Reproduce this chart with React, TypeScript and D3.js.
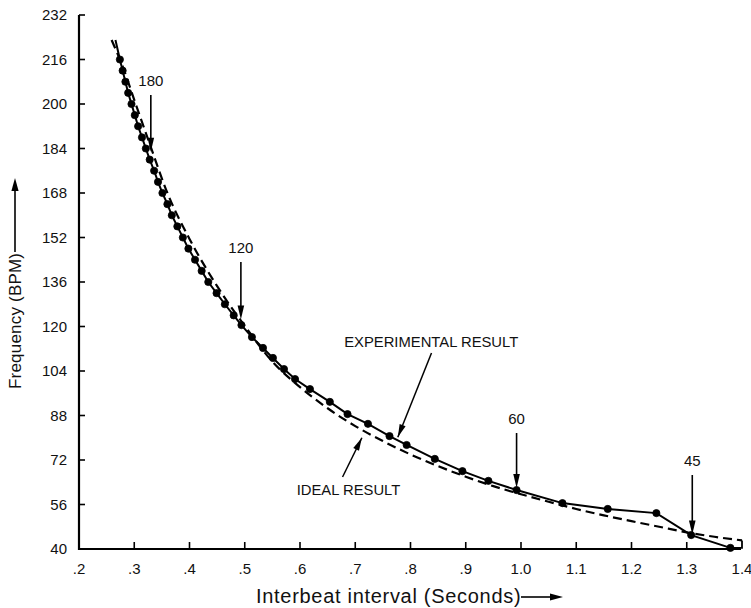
import React from 'react';
import * as d3 from 'd3';

// interbeat interval (s) and measured frequency (BPM)
const expInterval = [0.266, 0.274, 0.279, 0.284, 0.289, 0.295, 0.301, 0.307, 0.314, 0.321, 0.328, 0.336, 0.343, 0.351, 0.36, 0.368, 0.378, 0.388, 0.398, 0.41, 0.422, 0.434, 0.449, 0.464, 0.48, 0.494, 0.513, 0.533, 0.551, 0.571, 0.591, 0.618, 0.654, 0.686, 0.723, 0.762, 0.793, 0.844, 0.894, 0.941, 0.992, 1.075, 1.157, 1.245, 1.308, 1.379];
const expBpm = [223, 216, 212, 208, 204, 200, 196, 192, 188, 184, 180, 176, 172, 168, 164, 160, 156, 152, 148, 144, 140, 136, 132, 128, 124, 120.5, 116.2, 112.3, 108.7, 104.7, 101.1, 97.5, 92.9, 88.5, 85, 80.6, 77.4, 72.4, 68, 64.5, 61.2, 56.5, 54.4, 52.9, 45, 40.4];
// first point is the line start (no dot)
const expNoDot = [0];

const idealInterval = [0.259, 0.28, 0.3, 0.33, 0.36, 0.4, 0.45, 0.5, 0.55, 0.6, 0.65, 0.7, 0.75, 0.8, 0.85, 0.9, 0.95, 1.0, 1.05, 1.1, 1.15, 1.2, 1.25, 1.3, 1.35, 1.4];
const idealBpm = [223, 213, 201.5, 184.5, 168, 151.5, 134.5, 120.2, 107.4, 98.2, 90.6, 84.2, 78.8, 74, 69.8, 66, 62.6, 59.7, 57, 54.4, 52.1, 50, 48, 46, 44.4, 43.1];

// little closing stroke at the right end of the curves
const endInterval = [1.379, 1.4, 1.4];
const endBpm = [40.4, 40.4, 43.1];

const xTicks = [0.2, 0.3, 0.4, 0.5, 0.6, 0.7, 0.8, 0.9, 1.0, 1.1, 1.2, 1.3, 1.4];
const xTickLabels = ['.2', '.3', '.4', '.5', '.6', '.7', '.8', '.9', '1.0', '1.1', '1.2', '1.3', '1.4'];
const yTicks = [40, 56, 72, 88, 104, 120, 136, 152, 168, 184, 200, 216, 232];

// rate markers: label, interval, arrow top bpm, arrow tip bpm
const markLabels = ['180', '120', '60', '45'];
const markInterval = [0.33, 0.493, 0.992, 1.31];
const markTop = [203.2, 143.2, 81.7, 66.6];
const markTip = [182.8, 122.5, 61.9, 45.2];

// text callouts: label, text x/bpm, arrow tail, arrow tip
const calloutLabels = ['EXPERIMENTAL RESULT', 'IDEAL RESULT'];
const calloutTextX = [0.68, 0.594];
const calloutTextY = [112.5, 59.5];
const calloutTail = [[0.838, 110.5], [0.677, 65.9]];
const calloutTip = [[0.777, 80.2], [0.712, 80]];

const W = 751;
const H = 608;
const left = 79;
const right = 742;
const top = 15;
const bottom = 549;

const font = '"Liberation Sans", Arial, Helvetica, sans-serif';

function arrowHead(x1: number, y1: number, x2: number, y2: number, len = 13, half = 3.2) {
  const a = Math.atan2(y2 - y1, x2 - x1);
  const bx = x2 - len * Math.cos(a);
  const by = y2 - len * Math.sin(a);
  const px = -Math.sin(a) * half;
  const py = Math.cos(a) * half;
  return `M${x2},${y2}L${bx + px},${by + py}L${bx - px},${by - py}Z`;
}

export default function App() {
  const x = d3.scaleLinear().domain([0.2, 1.4]).range([left, right]);
  const y = d3.scaleLinear().domain([40, 232]).range([bottom, top]);

  const expPts: [number, number][] = expInterval.map((t, i) => [t, expBpm[i]]);
  const idealPts: [number, number][] = idealInterval.map((t, i) => [t, idealBpm[i]]);
  const endPts: [number, number][] = endInterval.map((t, i) => [t, endBpm[i]]);

  const expLine = d3.line<[number, number]>().x(d => x(d[0])).y(d => y(d[1]));
  const idealLine = d3.line<[number, number]>().x(d => x(d[0])).y(d => y(d[1])).curve(d3.curveMonotoneX);

  return (
    <svg width={W} height={H} style={{ position: 'absolute', left: 0, top: 0, background: '#fff' }} fontFamily={font}>
      {/* axes */}
      <line x1={left} x2={left} y1={top} y2={bottom + 1} stroke="#000" strokeWidth={2.2} />
      <line x1={left - 1} x2={right - 1} y1={bottom} y2={bottom} stroke="#000" strokeWidth={2.2} />
      {yTicks.map(v => (
        <g key={'y' + v}>
          <line x1={left} x2={left + 6} y1={y(v)} y2={y(v)} stroke="#000" strokeWidth={1.6} />
          <text x={67} y={y(v) + 5} textAnchor="end" fontSize={15} fill="#111">{v}</text>
        </g>
      ))}
      {xTicks.map((v, i) => (
        <g key={'x' + v}>
          {i > 0 && i < xTicks.length - 1 && (
            <line x1={x(v)} x2={x(v)} y1={bottom} y2={bottom - 7} stroke="#000" strokeWidth={1.6} />
          )}
          <text x={x(v)} y={574} textAnchor="middle" fontSize={15} fill="#111">{xTickLabels[i]}</text>
        </g>
      ))}

      {/* axis titles */}
      <text x={256} y={603} fontSize={20} letterSpacing={0.7} fill="#111">Interbeat interval (Seconds)</text>
      <line x1={521} x2={552} y1={597} y2={597} stroke="#000" strokeWidth={1.6} />
      <path d={arrowHead(521, 597, 563, 597, 13, 3.6)} fill="#000" />
      <text transform={`translate(21,389) rotate(-90)`} fontSize={17} letterSpacing={0.2} fill="#111">Frequency (BPM)</text>
      <line x1={15} x2={15} y1={252} y2={190} stroke="#000" strokeWidth={1.6} />
      <path d={arrowHead(15, 252, 15, 178, 13, 3.6)} fill="#000" />

      {/* ideal curve */}
      <path d={idealLine(idealPts) || ''} fill="none" stroke="#000" strokeWidth={2.2} strokeDasharray="9,5" />
      {/* experimental curve */}
      <path d={expLine(expPts) || ''} fill="none" stroke="#000" strokeWidth={2} />
      <path d={expLine(endPts) || ''} fill="none" stroke="#000" strokeWidth={1.8} />
      {expPts.map((d, i) => expNoDot.includes(i) ? null : (
        <circle key={'p' + i} cx={x(d[0])} cy={y(d[1])} r={3.6} fill="#000" stroke="#000" strokeWidth={0.8} />
      ))}

      {/* rate markers */}
      {markLabels.map((lab, i) => {
        const mx = x(markInterval[i]);
        const y1 = y(markTop[i]);
        const y2 = y(markTip[i]);
        return (
          <g key={'m' + lab}>
            <text x={mx} y={y1 - 9} textAnchor="middle" fontSize={15} fill="#111">{lab}</text>
            <line x1={mx} x2={mx} y1={y1} y2={y2 - 8} stroke="#000" strokeWidth={1.6} />
            <path d={arrowHead(mx, y1, mx, y2, 14, 3.3)} fill="#000" />
          </g>
        );
      })}

      {/* callouts */}
      {calloutLabels.map((lab, i) => {
        const x1 = x(calloutTail[i][0]);
        const y1 = y(calloutTail[i][1]);
        const x2 = x(calloutTip[i][0]);
        const y2 = y(calloutTip[i][1]);
        return (
          <g key={'c' + i}>
            <text x={x(calloutTextX[i])} y={y(calloutTextY[i])} fontSize={14.8} fill="#111">{lab}</text>
            <line x1={x1} y1={y1} x2={x2} y2={y2} stroke="#000" strokeWidth={1.5} />
            <path d={arrowHead(x1, y1, x2, y2, 13, 3.2)} fill="#000" />
          </g>
        );
      })}
    </svg>
  );
}
